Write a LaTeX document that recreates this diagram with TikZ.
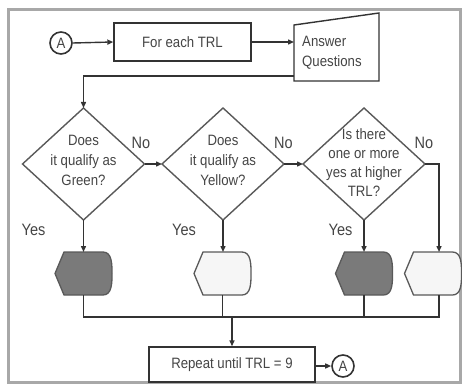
\documentclass[tikz,border=0pt]{standalone}
\usepackage{fontspec}
\setmainfont{Liberation Sans}[FakeStretch=0.88]
\usetikzlibrary{arrows.meta,calc}
\definecolor{txt}{HTML}{454545}
\definecolor{ln}{HTML}{333333}
\definecolor{dln}{HTML}{595959}
\definecolor{dk}{HTML}{7A7A7A}
\definecolor{lt}{HTML}{F6F6F6}
\definecolor{framec}{HTML}{A8A8A8}
\begin{document}
\begin{tikzpicture}[x=1pt,y=-1pt,
  font=\fontsize{15}{20}\selectfont, text=txt,
  conn/.style={draw=ln, line width=1.4pt},
  arr/.style={conn, -{Triangle[length=6pt,width=5pt]}},
  procbox/.style={draw=ln, line width=1.4pt, fill=white, inner sep=0pt},
  conncirc/.style={circle, draw=ln, line width=1.6pt, minimum size=22pt, inner sep=0pt},
  holder/.style={inner sep=0pt, outer sep=0pt},
  dline/.style={draw=dln, line width=1.4pt},
  lbl/.style={font=\fontsize{16.5}{20}\selectfont, inner sep=0pt},
  hexn/.style={holder, minimum width=57pt, minimum height=43pt}
]
\useasboundingbox (0,0) rectangle (462,387);
\draw[framec, line width=3pt] (8.5,9.5) rectangle (460,382.5);

% top row
\node[conncirc] (a1) at (61,43) {A};
\node[procbox, minimum width=137pt, minimum height=38pt] (fe) at (182.5,42) {For each TRL};
\node[holder, minimum width=85pt, minimum height=68pt] (aq) at (336.5,47) {};
\draw[dline, draw=ln, fill=white] (aq.south west) -- ($(aq.north west)+(0,12)$) -- (aq.north east) -- (aq.south east) -- cycle;
\node[anchor=west, align=left, inner sep=0pt] (aqt) at (302,53) {Answer\\Questions};
\draw[arr] (a1.east) -- (fe.west);
\draw[arr] (fe.east) -- (fe.east -| aq.west);

% diamonds
\foreach \n/\x in {d1/83.5, d2/223, d3/364} {
  \node[holder, minimum width=122pt, minimum height=112pt] (\n) at (\x,164) {};
  \draw[dline] (\n.north) -- (\n.east) -- (\n.south) -- (\n.west) -- cycle;
}
\node[align=center, inner sep=0pt] (t1) at (83.5,160) {Does\\it qualify as\\Green?};
\node[align=center, inner sep=0pt] (t2) at (223,160) {Does\\it qualify as\\Yellow?};
\node[align=center, inner sep=0pt, font=\fontsize{15}{19}\selectfont] (t3) at (364,162.5) {Is there\\one or more\\yes at higher\\TRL?};

\draw[arr] ($(aq.south west)+(0,-5)$) -| (d1.north);
\draw[arr] (d1.east) -- (d2.west);
\draw[arr] (d2.east) -- (d3.west);

\node[lbl] (n1) at (141,143) {No};
\node[lbl] (n2) at (283.5,143) {No};
\node[lbl] (n3) at (424,143) {No};
\node[lbl] (y1) at (33.5,230) {Yes};
\node[lbl] (y2) at (184,230) {Yes};
\node[lbl] (y3) at (340.5,230) {Yes};

% display shapes
\node[hexn] (h1) at (83.5,273.5) {};
\node[hexn] (h2) at (222.5,273.5) {};
\node[hexn] (h3) at (364,273.5) {};
\node[hexn] (h4) at (433,273.5) {};
\foreach \n/\c/\b in {h1/dk/dln, h2/lt/dln, h3/dk/dln, h4/lt/dln} {
  \draw[draw=\b, line width=1.3pt, fill=\c] (\n.west) -- ([xshift=9pt]\n.north west) -- ([xshift=-9pt]\n.north east)
    to[out=0,in=90] (\n.east) to[out=-90,in=0] ([xshift=-9pt]\n.south east) -- ([xshift=9pt]\n.south west) -- cycle;
}
\coordinate (h4c) at ($(h4.north)+(6,0)$);
\coordinate (h4s) at ($(h4.south)+(6,0)$);
\draw[arr] (d1.south) -- (h1.north);
\draw[arr] (d2.south) -- (d2.south |- h2.north);
\draw[arr] (d3.south) -- (h3.north);
\draw[arr] (d3.east) -| (h4c);

% bottom
\node[procbox, minimum width=166pt, minimum height=35pt] (rep) at (232,364.5) {Repeat until TRL = 9};
\coordinate (bus) at (232,317);
\draw[conn] (h1.south) |- (h4s |- bus) -- (h4s);
\draw[conn] (h2.south) -- (h2.south |- bus);
\draw[conn] (h3.south) -- (h3.south |- bus);
\draw[arr] (bus) -- (rep.north);
\node[conncirc] (a2) at (343,366) {A};
\draw[arr] (rep.east |- a2) -- (a2.west);
\end{tikzpicture}
\end{document}
